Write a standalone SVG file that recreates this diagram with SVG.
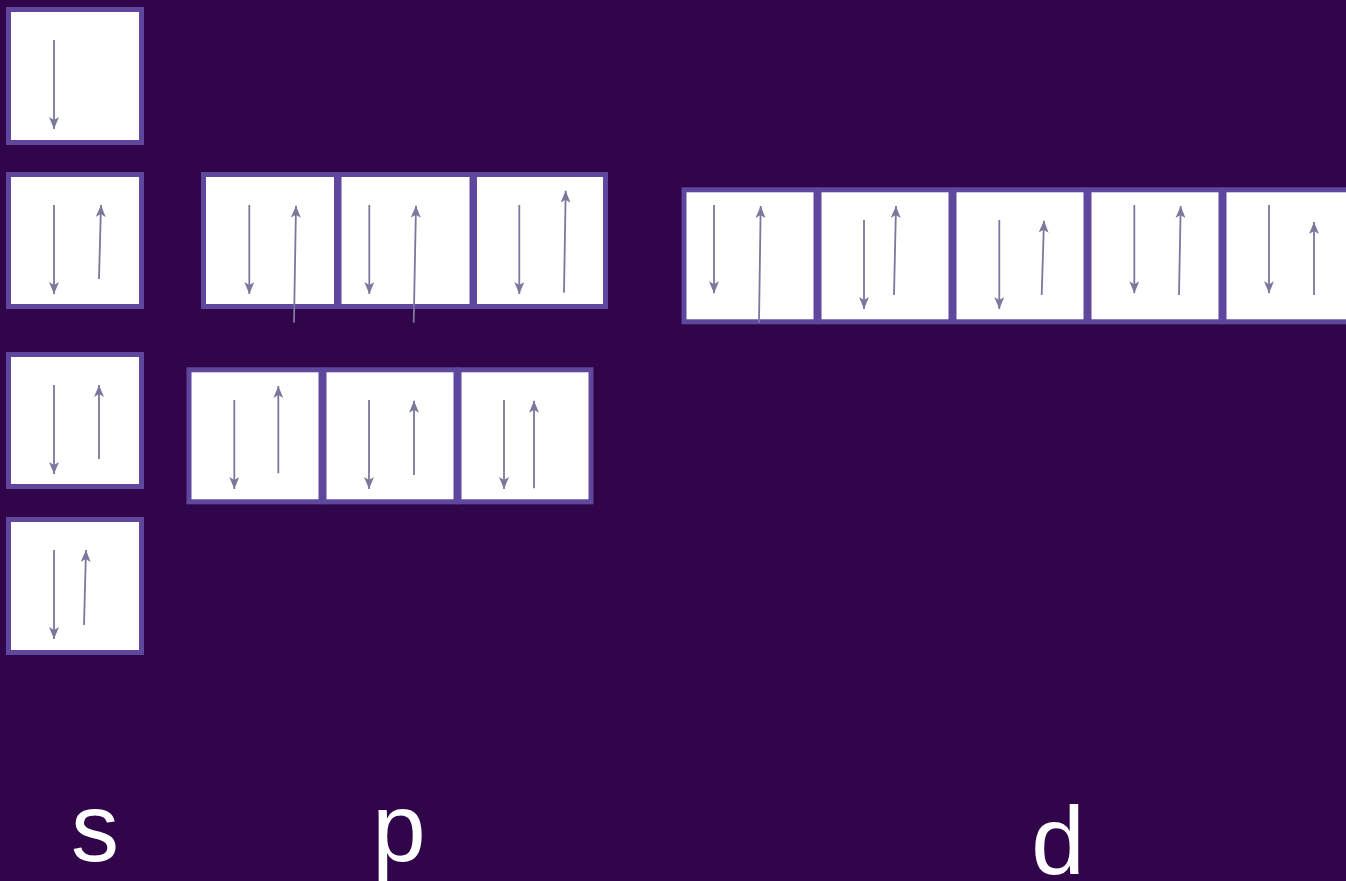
<svg xmlns="http://www.w3.org/2000/svg" width="1346" height="881" viewBox="0 0 1346 881">
<defs>
<style>
.box{fill:#ffffff;stroke:#5f479e;stroke-width:5}
.ar{stroke:#7a789c;stroke-width:1.8;fill:none;marker-end:url(#ah)}
.lbl{font-family:"Liberation Sans",Arial,sans-serif;font-size:96px;fill:#ffffff;text-anchor:middle}
</style>
<marker id="ah" markerUnits="userSpaceOnUse" markerWidth="12" markerHeight="10" refX="12" refY="5" orient="auto" viewBox="0 0 12 10">
<path d="M0,0 L12,5 L0,10 L3,5 z" fill="#7a789c"/>
</marker>
</defs>
<rect width="1346" height="881" fill="#31054a"/>
<g id="s-boxes">
<rect id="s1" class="box" x="8.5" y="9.5" width="133" height="133"/>
<rect id="s2" class="box" x="8.5" y="174.5" width="133" height="132"/>
<rect id="s3" class="box" x="8.5" y="354.5" width="133" height="132"/>
<rect id="s4" class="box" x="8.5" y="519.5" width="133" height="133"/>
</g>
<g id="p-boxes">
<rect id="p1a" class="box" x="203.5" y="174.5" width="133" height="132"/>
<rect id="p1b" class="box" x="339" y="174.5" width="133" height="132"/>
<rect id="p1c" class="box" x="474.5" y="174.5" width="131" height="132"/>
<rect id="p2a" class="box" x="189" y="369.8" width="132" height="132"/>
<rect id="p2b" class="box" x="324" y="369.8" width="132" height="132"/>
<rect id="p2c" class="box" x="459" y="369.8" width="132" height="132"/>
</g>
<g id="d-boxes">
<rect id="d1" class="box" x="684" y="189.8" width="132" height="132"/>
<rect id="d2" class="box" x="819" y="189.8" width="132" height="132"/>
<rect id="d3" class="box" x="954" y="189.8" width="132" height="132"/>
<rect id="d4" class="box" x="1089" y="189.8" width="132" height="132"/>
<rect id="d5" class="box" x="1224" y="189.8" width="132" height="132"/>
</g>
<g id="arrows">
<line class="ar" x1="54" y1="40" x2="54" y2="129"/>
<line class="ar" x1="54" y1="205" x2="54" y2="294"/>
<line class="ar" x1="99" y1="279" x2="101" y2="205"/>
<line class="ar" x1="54" y1="385" x2="54" y2="474"/>
<line class="ar" x1="99" y1="459" x2="99" y2="385"/>
<line class="ar" x1="54" y1="550" x2="54" y2="639"/>
<line class="ar" x1="84" y1="625" x2="86" y2="550"/>

<line class="ar" x1="249.3" y1="205" x2="249.3" y2="294"/>
<line class="ar" x1="294" y1="322.7" x2="296" y2="205.7"/>
<line class="ar" x1="369.3" y1="205" x2="369.3" y2="294"/>
<line class="ar" x1="413.7" y1="322.7" x2="416" y2="205.7"/>
<line class="ar" x1="519.3" y1="205" x2="519.3" y2="294"/>
<line class="ar" x1="564" y1="292.7" x2="565.7" y2="190.7"/>

<line class="ar" x1="234.3" y1="400" x2="234.3" y2="489"/>
<line class="ar" x1="278.3" y1="473.3" x2="278.3" y2="386"/>
<line class="ar" x1="369" y1="400" x2="369" y2="489"/>
<line class="ar" x1="414" y1="475" x2="414" y2="400.7"/>
<line class="ar" x1="504" y1="400" x2="504" y2="489"/>
<line class="ar" x1="534" y1="488.3" x2="534" y2="400.7"/>

<line class="ar" x1="714" y1="205" x2="714" y2="293.3"/>
<line class="ar" x1="759" y1="322.7" x2="760.7" y2="206"/>
<line class="ar" x1="864" y1="220" x2="864" y2="309"/>
<line class="ar" x1="894" y1="295" x2="896" y2="206"/>
<line class="ar" x1="999.3" y1="220" x2="999.3" y2="309"/>
<line class="ar" x1="1041.7" y1="295" x2="1044" y2="220.7"/>
<line class="ar" x1="1134.3" y1="205" x2="1134.3" y2="293.3"/>
<line class="ar" x1="1179" y1="295" x2="1180.7" y2="206"/>
<line class="ar" x1="1269" y1="205" x2="1269" y2="293.3"/>
<line class="ar" x1="1314" y1="295" x2="1314" y2="222"/>
</g>
<g id="labels">
<text class="lbl" x="95" y="861">s</text>
<text class="lbl" x="399" y="861">p</text>
<text class="lbl" x="1058" y="874">d</text>
</g>
</svg>
